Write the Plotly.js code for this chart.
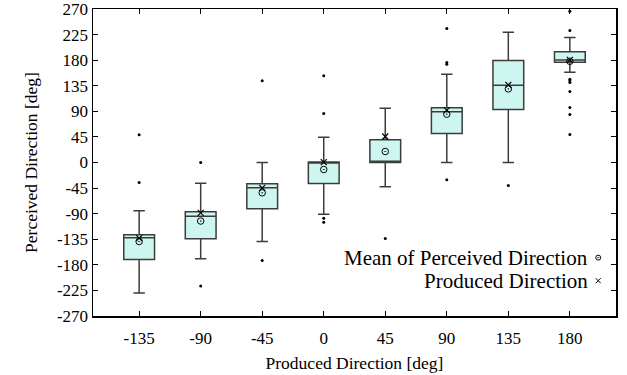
<!DOCTYPE html>
<html>
<head>
<meta charset="utf-8">
<script src="https://cdn.plot.ly/plotly-3.0.1.min.js"></script>
<style>html,body{margin:0;padding:0;background:#fff;}#chart{width:627px;height:375px;}</style>
</head>
<body>
<div id="chart"></div>
<script>
// Produced direction categories [deg]
const produced = [-135, -90, -45, 0, 45, 90, 135, 180];
// Box statistics of perceived direction [deg]
const lowerWhisker = [-229.7, -169.3, -138.9, -90.9, -42.7, 0, 0, 158.7];
const q1 = [-170.5, -134.2, -81.4, -36.9, 0, 51, 93.2, 176.3];
const median = [-132.5, -94.4, -44.5, 0, 2, 89.1, 135.9, 180.5];
const q3 = [-127.1, -86.7, -37.5, 1, 39.8, 96.1, 179.3, 194.6];
const upperWhisker = [-85, -36.3, 0, 44.5, 95.5, 155.2, 229, 219.7];
// Means
const meanPerceived = [-139, -103, -53.3, -12.3, 19.3, 85, 129.5, 178];
const producedMark = [-133, -88.5, -44.5, 0.6, 45.7, 92, 136.6, 180.5];
// Outliers
const outlierX = [-135, -135, -90, -90, -45, -45, 0, 0, 0, 0, 45, 90, 90, 90, 90, 135,
  180, 180, 180, 180, 180, 180, 180, 180, 180];
const outlierY = [48.7, -35.2, 0, -217.4, 144, -172.3, 152.4, 86.1, -97.9, -104.9, -133.6,
  235.5, 175.8, 172.8, -30.4, -40.4,
  266, 232, 146.4, 143.6, 140.6, 124.8, 96.7, 84.4, 49.2];
const yTicks = [-270, -225, -180, -135, -90, -45, 0, 45, 90, 135, 180, 225, 270];
const legendLabels = ['Mean of Perceived Direction', 'Produced Direction'];

const FONT = '"Liberation Serif", "Times New Roman", Times, serif';

const traces = [
  {
    type: 'box', x: produced, q1: q1, median: median, q3: q3,
    lowerfence: lowerWhisker, upperfence: upperWhisker,
    width: 22.5, whiskerwidth: 0.37, boxpoints: false,
    fillcolor: '#cdf6f1', line: {color: '#3c3c3c', width: 1.5},
    showlegend: false, hoverinfo: 'skip'
  },
  {
    type: 'scatter', mode: 'markers', x: outlierX, y: outlierY,
    marker: {color: '#000', size: 3, symbol: 'circle'}, showlegend: false
  },
  {
    type: 'scatter', mode: 'markers', x: produced, y: meanPerceived,
    marker: {symbol: 'circle-open-dot', size: 6.5, color: '#000', line: {width: 1, color: '#000'}},
    showlegend: false
  },
  {
    type: 'scatter', mode: 'markers', x: produced, y: producedMark,
    marker: {symbol: 'x-thin-open', size: 6, color: '#000', line: {width: 1.2, color: '#000'}},
    showlegend: false
  },
  // legend keys on an overlay axis (paper-like)
  {
    type: 'scatter', mode: 'markers', x: [0.966], y: [0.19], xaxis: 'x2', yaxis: 'y2',
    marker: {symbol: 'circle-open-dot', size: 5, color: '#000', line: {width: 1, color: '#000'}},
    showlegend: false, hoverinfo: 'skip'
  },
  {
    type: 'scatter', mode: 'markers', x: [0.966], y: [0.115], xaxis: 'x2', yaxis: 'y2',
    marker: {symbol: 'x-thin-open', size: 5, color: '#000', line: {width: 1, color: '#000'}},
    showlegend: false, hoverinfo: 'skip'
  }
];

const layout = {
  width: 627, height: 375,
  margin: {l: 93, r: 11, t: 9, b: 59},
  paper_bgcolor: '#fff', plot_bgcolor: '#fff',
  font: {family: FONT, size: 17, color: '#000'},
  showlegend: false,
  xaxis: {
    range: [-168.75, 213.75], tickvals: produced, ticktext: produced.map(String),
    ticks: 'inside', ticklen: 5, tickwidth: 1, tickcolor: '#000',
    showline: true, linecolor: '#000', linewidth: 1.5, mirror: 'ticks',
    showgrid: false, zeroline: false, ticklabelstandoff: 6,
    tickfont: {family: FONT, size: 17},
    title: {text: 'Produced Direction [deg]', font: {family: FONT, size: 17.5}, standoff: 10}
  },
  yaxis: {
    range: [-270, 270], tickvals: yTicks, ticktext: yTicks.map(String),
    ticks: 'inside', ticklen: 5, tickwidth: 1, tickcolor: '#000',
    showline: true, linecolor: '#000', linewidth: 1.5, mirror: 'ticks',
    showgrid: false, zeroline: false, ticklabeloverflow: 'allow',
    tickfont: {family: FONT, size: 17},
    title: {text: 'Perceived Direction [deg]', font: {family: FONT, size: 17.5}, standoff: 15}
  },
  xaxis2: {range: [0, 1], overlaying: 'x', visible: false, fixedrange: true},
  yaxis2: {range: [0, 1], overlaying: 'y', visible: false, fixedrange: true},
  annotations: [
    {xref: 'paper', yref: 'paper', x: 0.95, y: 0.19, xanchor: 'right', yanchor: 'middle',
      text: legendLabels[0], showarrow: false, font: {family: FONT, size: 21}},
    {xref: 'paper', yref: 'paper', x: 0.95, y: 0.115, xanchor: 'right', yanchor: 'middle',
      text: legendLabels[1], showarrow: false, font: {family: FONT, size: 21}}
  ]
};

Plotly.newPlot('chart', traces, layout, {displayModeBar: false, staticPlot: true});
</script>
</body>
</html>
